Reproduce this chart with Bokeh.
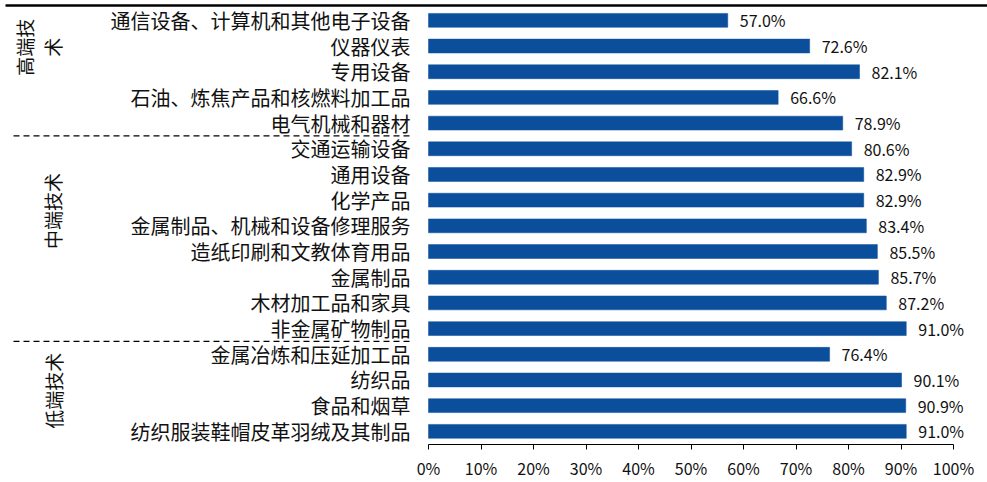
from bokeh.plotting import figure
from bokeh.models import Range1d, FixedTicker, ColumnDataSource
from bokeh.core.properties import value
from bokeh.embed import file_html
from bokeh.resources import INLINE

categories = [
    "通信设备、计算机和其他电子设备",
    "仪器仪表",
    "专用设备",
    "石油、炼焦产品和核燃料加工品",
    "电气机械和器材",
    "交通运输设备",
    "通用设备",
    "化学产品",
    "金属制品、机械和设备修理服务",
    "造纸印刷和文教体育用品",
    "金属制品",
    "木材加工品和家具",
    "非金属矿物制品",
    "金属冶炼和压延加工品",
    "纺织品",
    "食品和烟草",
    "纺织服装鞋帽皮革羽绒及其制品",
]
values = [57.0, 72.6, 82.1, 66.6, 78.9, 80.6, 82.9, 82.9, 83.4, 85.5, 85.7, 87.2, 91.0, 76.4, 90.1, 90.9, 91.0]
value_labels = ["%.1f%%" % v for v in values]
tick_values = [0, 10, 20, 30, 40, 50, 60, 70, 80, 90, 100]
tick_labels = ["%d%%" % t for t in tick_values]
group_texts = ["高端技", "术", "中端技术", "低端技术"]
separators = [4.5, 12.5]

W, H = 987, 482
X0_PX, PX_PER = 428.0, 5.25          # pixel of 0% and pixels per percent
Y0_PX, ROW_PX = 20.0, 25.86          # pixel of first bar centre and row pitch
FRAME_H = 447

def xd(px):
    return (px - X0_PX) / PX_PER

def yd(px):
    return (px - Y0_PX) / ROW_PX

p = figure(width=W, height=H, output_backend="svg", toolbar_location=None,
           x_range=Range1d(xd(0), xd(W)), y_range=Range1d(yd(FRAME_H), yd(0)),
           y_axis_location=None, min_border_left=0, min_border_right=0,
           min_border_top=0, min_border_bottom=H - FRAME_H)
p.outline_line_color = None
p.grid.visible = False
p.background_fill_color = "white"
p.border_fill_color = "white"

idx = list(range(len(categories)))
src = ColumnDataSource(dict(y=idx, v=values, lab=value_labels, cat=categories))

bar_color = "#0B4F9C"
p.hbar(y="y", left=0, right="v", height=0.54, source=src,
       fill_color=bar_color, line_color=bar_color, line_width=0.5)

font = value("Noto Sans CJK SC")
p.text(x="v", y="y", text="lab", source=src, x_offset=12,
       text_font=font, text_font_size="16px", text_color="#111111",
       text_baseline="middle", text_align="left")
p.text(x=0, y="y", text="cat", source=src, x_offset=-18,
       text_font=font, text_font_size="20px", text_color="#111111",
       text_baseline="middle", text_align="right")

# group labels (rotated)
gx = [xd(24), xd(52), xd(52), xd(53)]
gy = [yd(47), yd(47), yd(212), yd(393)]
p.text(x=gx, y=gy, text=group_texts, angle=1.5708,
       text_font=font, text_font_size="19px", text_color="#111111",
       text_baseline="middle", text_align="center")

# separators
for s in separators:
    p.segment(x0=xd(13), x1=xd(413), y0=s, y1=s, line_color="black",
              line_width=1.3, line_dash="6 4")

# top rule
p.segment(x0=xd(5), x1=xd(W), y0=yd(5), y1=yd(5), line_color="black", line_width=2.5)

ax = p.xaxis[0]
ax.ticker = FixedTicker(ticks=tick_values)
ax.major_label_overrides = {t: l for t, l in zip(tick_values, tick_labels)}
ax.bounds = (0, 100)
ax.minor_tick_line_color = None
ax.major_tick_in = 0
ax.major_tick_out = 5
ax.axis_line_color = "black"
ax.major_tick_line_color = "black"
ax.major_label_standoff = 6
ax.major_label_text_font = "Noto Sans CJK SC"
ax.major_label_text_font_size = "16px"
ax.major_label_text_color = "#111111"

open("out.html", "w").write(file_html(p, INLINE))
